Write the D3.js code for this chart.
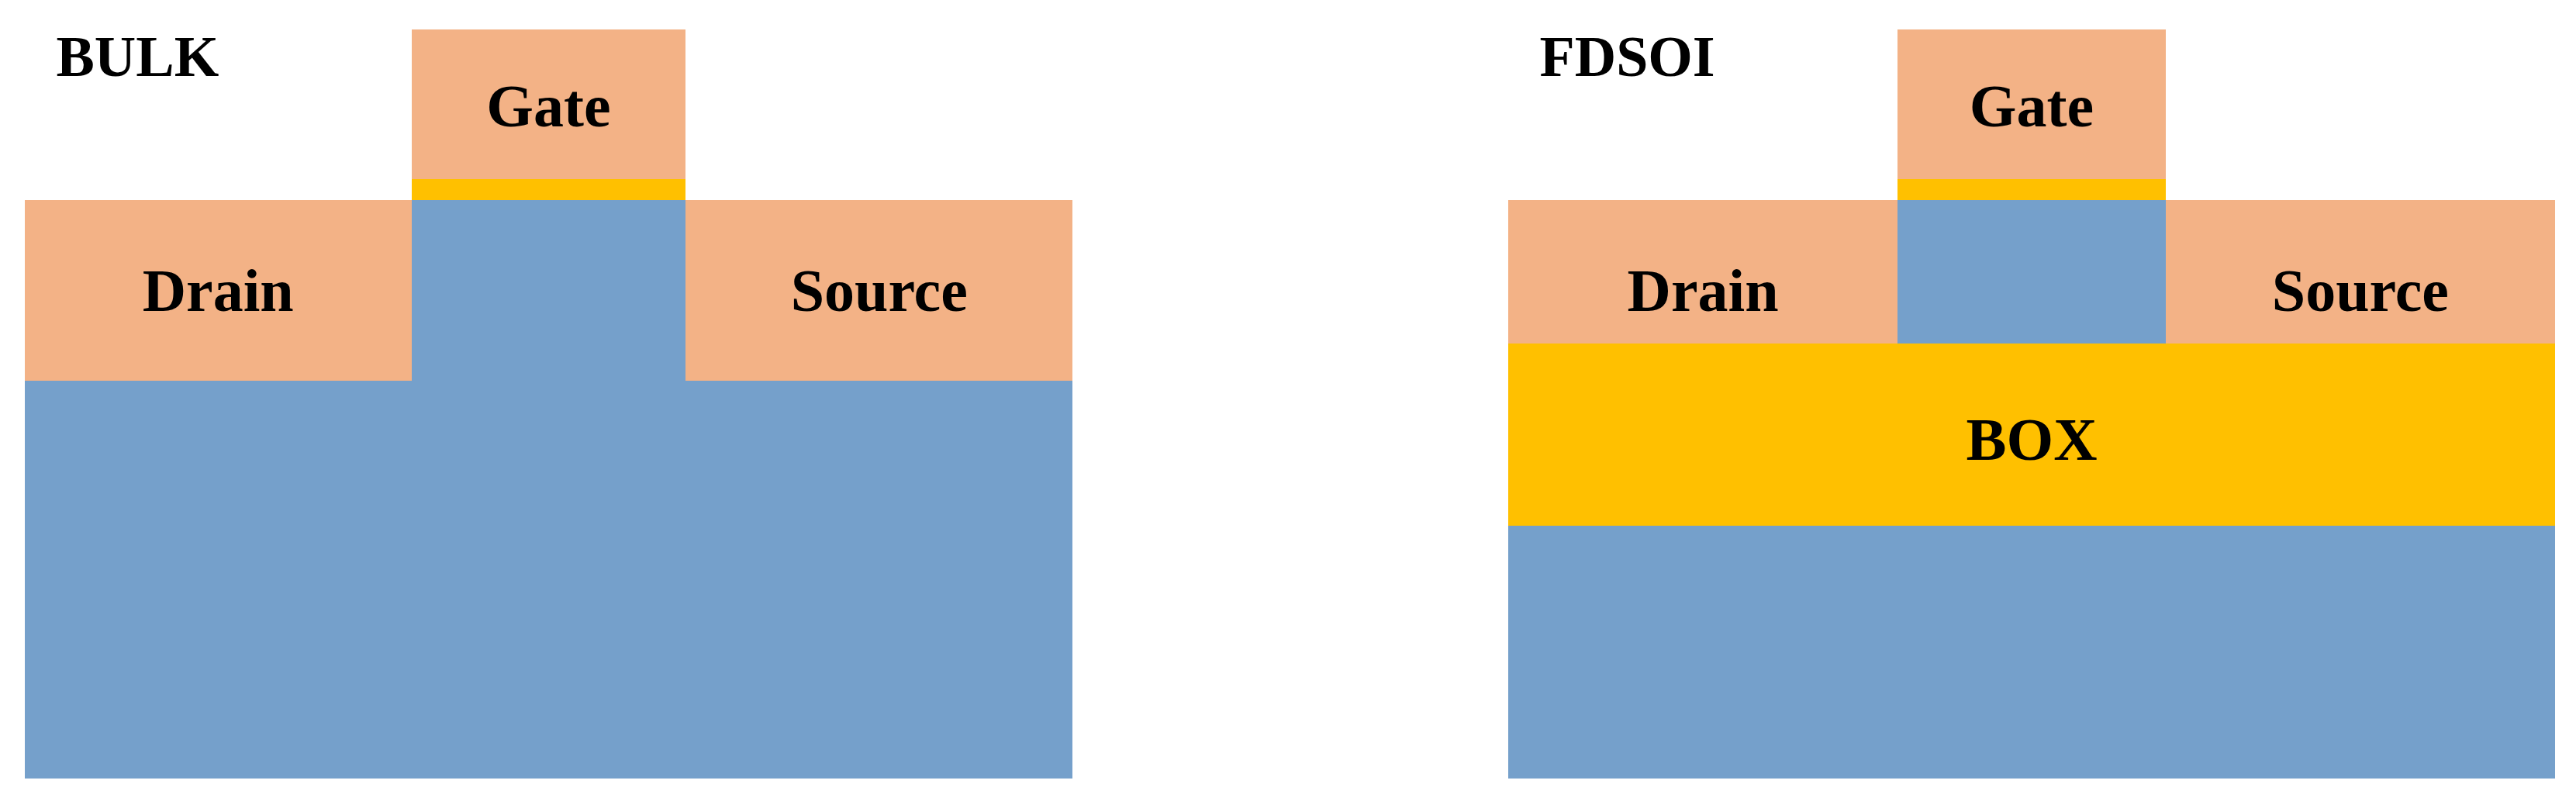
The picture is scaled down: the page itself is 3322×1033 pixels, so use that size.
<!DOCTYPE html>
<html>
<head>
<meta charset="utf-8">
<script src="https://cdn.jsdelivr.net/npm/d3@7"></script>
<style>
  html, body { margin: 0; padding: 0; background: #fff; }
  text { font-family: "Liberation Serif", "DejaVu Serif", serif; font-weight: bold; }
</style>
</head>
<body>
<div id="chart"></div>
<script>
// Layer geometry in device-unit coordinates (x: 0..100 per panel, y: 0..100 depth)
const panels = ["BULK", "FDSOI"];
const layerNames = ["Substrate", "Drain", "Source", "Channel", "Oxide", "Gate", "BOX"];
const layerColors = ["#75a0cb", "#f3b286", "#f3b286", "#75a0cb", "#ffc000", "#f3b286", "#ffc000"];
// [x0, x1, y0, y1] per layer per panel (null = absent)
const bulkLayers = [[0, 100, 22.8, 100], [0, 36.9, 22.8, 46.9], [63.1, 100, 22.8, 46.9], null, [36.9, 63.1, 20, 22.8], [36.9, 63.1, 0, 20], null];
const fdsoiLayers = [[0, 100, 66.3, 100], [0, 37.2, 22.8, 41.9], [62.8, 100, 22.8, 41.9], [37.2, 62.8, 22.8, 41.9], [37.2, 62.8, 20, 22.8], [37.2, 62.8, 0, 20], [0, 100, 41.9, 66.3]];
// label name and its vertical position (depth units)
const labelNames = ["Drain", "Source", "Gate", "BOX"];
const labelDepth = [34.7, 34.7, 10.1, 54.6];

const W = 3322, H = 1033;
const svg = d3.select("#chart").append("svg").attr("width", W).attr("height", H);

const y = d3.scaleLinear().domain([0, 100]).range([38, 1004]);
const panelX = [d3.scaleLinear().domain([0, 100]).range([32, 1383]),
                d3.scaleLinear().domain([0, 100]).range([1945, 3295])];

[bulkLayers, fdsoiLayers].forEach((layers, p) => {
    const x = panelX[p];
    const g = svg.append("g");
    const rows = layers.map((r, i) => r && { name: layerNames[i], color: layerColors[i], x0: r[0], x1: r[1], y0: r[2], y1: r[3] })
        .filter(d => d);

    g.selectAll("rect").data(rows).enter().append("rect")
        .attr("x", d => x(d.x0))
        .attr("y", d => y(d.y0))
        .attr("width", d => x(d.x1) - x(d.x0))
        .attr("height", d => y(d.y1) - y(d.y0))
        .attr("fill", d => d.color)
        .attr("shape-rendering", "crispEdges");

    g.selectAll("text.lbl").data(rows.filter(d => labelNames.includes(d.name)))
        .enter().append("text").attr("class", "lbl")
        .attr("x", d => x((d.x0 + d.x1) / 2))
        .attr("y", d => y(labelDepth[labelNames.indexOf(d.name)]))
        .attr("dy", "0.35em")
        .attr("text-anchor", "middle")
        .attr("font-size", 78)
        .text(d => d.name);

    g.append("text")
        .attr("x", x(3))
        .attr("y", y(6.2))
        .attr("font-size", 74)
        .text(panels[p]);
});
</script>
</body>
</html>
